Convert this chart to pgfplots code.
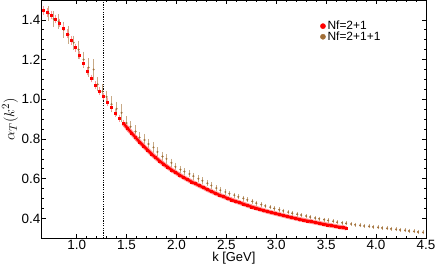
\documentclass[border=0pt]{standalone}
\usepackage{fontspec}
\setmainfont{Liberation Sans}
\usepackage{pgfplots}
\usepackage{pgfplotstable}
\pgfplotsset{compat=1.18}
\definecolor{brownpt}{RGB}{160,110,55}
\definecolor{browneb}{RGB}{200,170,135}
\definecolor{redeb}{RGB}{255,150,150}
\pgfplotstableread{
k v e
0.67 1.448 0.016
0.71 1.437 0.016
0.75 1.424 0.016
0.79 1.405 0.016
0.83 1.385 0.016
0.87 1.360 0.016
0.91 1.330 0.016
0.95 1.296 0.016
0.99 1.260 0.015
1.03 1.222 0.015
1.07 1.183 0.015
1.11 1.142 0.015
1.15 1.105 0.014
1.19 1.072 0.014
1.23 1.042 0.014
1.27 1.014 0.014
1.31 0.986 0.013
1.35 0.958 0.013
1.39 0.931 0.013
1.43 0.905 0.012
1.47 0.879 0.012
1.51 0.854 0.012
1.55 0.831 0.011
1.59 0.808 0.011
1.63 0.786 0.011
1.67 0.765 0.010
1.71 0.745 0.010
1.75 0.725 0.010
1.79 0.707 0.009
1.83 0.690 0.009
1.87 0.674 0.009
1.91 0.659 0.009
1.95 0.645 0.009
1.99 0.632 0.008
2.03 0.619 0.008
2.07 0.607 0.008
2.11 0.596 0.008
2.15 0.585 0.008
2.19 0.575 0.008
2.23 0.565 0.008
2.27 0.556 0.007
2.31 0.545 0.007
2.35 0.536 0.007
2.39 0.527 0.007
2.43 0.518 0.007
2.47 0.510 0.007
2.51 0.502 0.007
2.55 0.494 0.007
2.59 0.487 0.007
2.63 0.480 0.007
2.67 0.473 0.007
2.71 0.466 0.006
2.75 0.459 0.006
2.79 0.453 0.006
2.83 0.447 0.006
2.87 0.441 0.006
2.91 0.435 0.006
2.95 0.430 0.006
2.99 0.425 0.006
3.03 0.420 0.006
3.07 0.415 0.006
3.11 0.410 0.006
3.15 0.405 0.006
3.19 0.401 0.006
3.23 0.396 0.006
3.27 0.392 0.006
3.31 0.388 0.006
3.35 0.384 0.006
3.39 0.380 0.006
3.43 0.376 0.006
3.47 0.372 0.006
3.51 0.368 0.006
3.55 0.364 0.006
3.59 0.361 0.006
3.63 0.357 0.006
3.67 0.354 0.006
3.70 0.351 0.006
}\redtab
\pgfplotstableread{
k v e
0.72 1.432 0.030
0.77 1.405 0.035
0.82 1.392 0.030
0.87 1.350 0.035
0.92 1.325 0.040
0.97 1.285 0.030
1.02 1.250 0.040
1.07 1.200 0.035
1.12 1.160 0.040
1.17 1.150 0.045
1.21 1.075 0.030
1.26 1.040 0.030
1.30 1.012 0.025
1.35 0.975 0.035
1.40 0.952 0.030
1.45 0.932 0.040
1.50 0.880 0.030
1.54 0.862 0.022
1.59 0.838 0.025
1.63 0.808 0.020
1.68 0.795 0.025
1.72 0.775 0.020
1.77 0.758 0.022
1.81 0.735 0.018
1.86 0.712 0.018
1.90 0.700 0.018
1.95 0.680 0.016
1.99 0.660 0.015
2.04 0.646 0.013
2.08 0.636 0.013
2.13 0.624 0.012
2.17 0.613 0.012
2.22 0.600 0.011
2.26 0.590 0.011
2.31 0.577 0.010
2.35 0.566 0.010
2.40 0.553 0.009
2.44 0.542 0.009
2.49 0.533 0.009
2.53 0.525 0.008
2.58 0.517 0.008
2.62 0.509 0.008
2.67 0.501 0.007
2.71 0.494 0.007
2.76 0.486 0.007
2.80 0.477 0.007
2.85 0.470 0.007
2.89 0.463 0.006
2.94 0.457 0.006
2.98 0.450 0.006
3.03 0.444 0.006
3.07 0.438 0.006
3.12 0.432 0.006
3.16 0.426 0.006
3.21 0.421 0.006
3.25 0.417 0.005
3.30 0.412 0.005
3.34 0.407 0.005
3.39 0.402 0.005
3.43 0.398 0.005
3.48 0.394 0.005
3.52 0.390 0.005
3.57 0.386 0.005
3.61 0.381 0.005
3.66 0.378 0.005
3.70 0.375 0.005
3.75 0.372 0.005
3.79 0.368 0.005
3.84 0.365 0.005
3.88 0.362 0.005
3.93 0.360 0.005
3.97 0.357 0.005
4.02 0.355 0.005
4.06 0.352 0.005
4.11 0.350 0.005
4.15 0.348 0.005
4.20 0.345 0.005
4.24 0.342 0.005
4.29 0.340 0.005
4.33 0.337 0.005
4.38 0.335 0.005
4.42 0.332 0.005
4.47 0.330 0.005
}\browntab
\begin{document}
\begin{tikzpicture}
\begin{axis}[
  at={(0,0)}, anchor=south west,
  width=384.3bp, height=238.3bp, scale only axis,
  xmin=0.65, xmax=4.5, ymin=0.3, ymax=1.5,
  xtick={1,1.5,2,2.5,3,3.5,4,4.5},
  ytick={0.4,0.6,0.8,1.0,1.2,1.4},
  minor x tick num=4, minor y tick num=3,
  tick align=inside,
  major tick length=4bp, minor tick length=2.2bp,
  axis line style={line width=0.9bp},
  tick style={line width=0.6bp, black},
  ticklabel style={font=\fontsize{13.5}{15}\selectfont},
  /pgf/number format/.cd, fixed, fixed zerofill, precision=1, assume math mode=true,
  /pgfplots/.cd,
  yticklabel style={inner sep=1.2bp},
  xticklabel style={inner sep=2bp},
  xlabel={k [GeV]},
  ylabel={$\alpha_T(k^2)$},
  xlabel style={font=\fontsize{13}{15}\selectfont, yshift=3bp},
  ylabel style={font=\fontsize{15.5}{17}\selectfont, yshift=-1bp},
  legend style={draw=none, fill=none, at={(0.722,0.925)}, anchor=north west,
    font=\fontsize{12}{13}\selectfont, row sep=-3.5bp, inner sep=1bp},
  legend cell align=left,
]
\addplot[forget plot, black, line width=0.6bp, dash pattern=on 1.2bp off 1.2bp] coordinates {(1.266,0.3) (1.266,1.5)};
\addplot[forget plot, only marks, mark=*, mark size=0.8bp, brownpt,
  error bars/.cd, y dir=both, y explicit,
  error bar style={browneb, line width=0.5bp},
  error mark options={browneb, mark size=1.1bp, line width=0.5bp}]
  table[x=k, y=v, y error=e]{\browntab};
\addplot[forget plot, no marks, redeb, line width=4.5bp, restrict x to domain=1.45:3.70]
  table[x=k, y=v]{\redtab};
\addplot[forget plot, only marks, mark=square*, mark size=1.0bp, red,
  error bars/.cd, y dir=both, y explicit,
  error bar style={redeb, line width=0.5bp},
  error mark options={redeb, mark size=1.1bp, line width=0.5bp}]
  table[x=k, y=v, y error=e]{\redtab};
\addplot[forget plot, no marks, red, line width=2.4bp, restrict x to domain=1.45:3.70]
  table[x=k, y=v]{\redtab};
\addlegendimage{only marks, mark=*, mark size=2.6bp, red}
\addlegendentry{Nf=2+1}
\addlegendimage{only marks, mark=*, mark size=2.6bp, brownpt}
\addlegendentry{Nf=2+1+1}
\end{axis}
\pgfresetboundingbox
\useasboundingbox (-41.7bp,-33.7bp) rectangle (394.3bp,238.3bp);
\end{tikzpicture}
\end{document}
